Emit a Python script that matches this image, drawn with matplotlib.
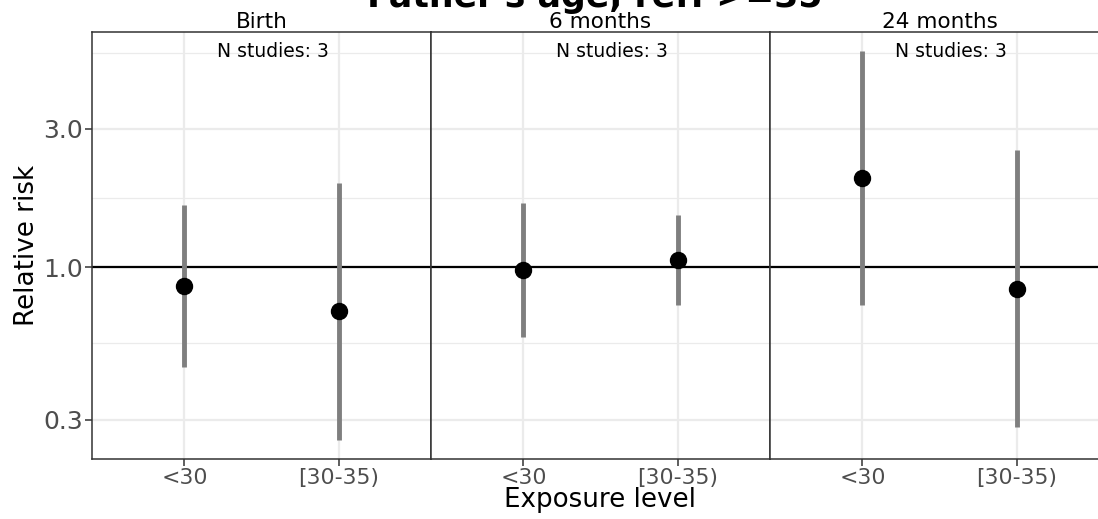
import numpy as np
import matplotlib
matplotlib.use("Agg")
import matplotlib.pyplot as plt

# -----------------------------
# DATA
# -----------------------------
panels = ["Birth", "6 months", "24 months"]
exposure_levels = ["<30", "[30-35)"]
n_studies = [3, 3, 3]

rr_point = [[0.862, 0.708], [0.982, 1.057], [2.03, 0.845]]
rr_lower = [[0.454, 0.256], [0.576, 0.740], [0.740, 0.283]]
rr_upper = [[1.646, 1.949], [1.663, 1.509], [5.53, 2.525]]

y_ticks = [0.3, 1.0, 3.0]
y_minor = [0.548, 1.732, 5.477]

# -----------------------------
# FIGURE
# -----------------------------
W, H = 1098, 519
fig = plt.figure(figsize=(W / 100, H / 100), dpi=100)

# log-scale limits with ggplot-style 5% expansion
lo = np.log10(np.min(rr_lower))
hi = np.log10(np.max(rr_upper))
pad = (hi - lo) * 0.05
ylim = (10 ** (lo - pad), 10 ** (hi + pad))

left_px, top_px, bottom_px, panel_w = 92, 32, 459, 339
text_col = "#4D4D4D"
grid_col = "#EBEBEB"

for i, name in enumerate(panels):
    ax = fig.add_axes([(left_px + i * panel_w) / W, (H - bottom_px) / H,
                       panel_w / W, (bottom_px - top_px) / H])
    ax.set_yscale("log")
    ax.set_ylim(*ylim)
    ax.set_xlim(-0.6, 1.6)

    x = np.arange(len(exposure_levels))

    # grid
    for yv in y_minor:
        ax.axhline(yv, color=grid_col, lw=0.9, zorder=0)
    for yv in y_ticks:
        ax.axhline(yv, color=grid_col, lw=1.6, zorder=0)
    for xv in x:
        ax.axvline(xv, color=grid_col, lw=1.6, zorder=0)

    ax.axhline(1.0, color="black", lw=1.6, zorder=1)

    ax.vlines(x, rr_lower[i], rr_upper[i], color="#7F7F7F", lw=3.5, zorder=2)
    ax.plot(x, rr_point[i], "o", color="black", ms=11.5, zorder=3)

    # study count label near the top of each panel
    ax.text(-0.6 + 0.533 * 2.2, np.max(rr_upper), f"N studies: {n_studies[i]}",
            ha="center", va="center", fontsize=13.5)

    ax.set_title(name, fontsize=15.5, pad=3)

    ax.tick_params(axis="both", color="#333333", width=1.1, length=5, pad=1.5)
    ax.set_xticks(x)
    ax.set_xticklabels(exposure_levels, fontsize=15.8, color=text_col)
    ax.yaxis.set_minor_locator(matplotlib.ticker.NullLocator())
    ax.set_yticks(y_ticks)
    if i == 0:
        ax.set_yticklabels([f"{v:.1f}" for v in y_ticks], fontsize=18, color=text_col)
        ax.set_ylabel("Relative risk", fontsize=18.8, labelpad=2)
    else:
        ax.set_yticklabels([])
        ax.tick_params(axis="y", length=0)
    if i == 1:
        ax.set_xlabel("Exposure level", fontsize=18.8, labelpad=-1)

    for s in ax.spines.values():
        s.set_color("#333333")
        s.set_linewidth(1.1)

fig.text((left_px + 1098) / 2 / W, 1 - 7 / H, "Father's age, ref: >=35",
         ha="center", va="baseline", fontsize=25, fontweight="bold")

fig.savefig("out.png", dpi=100)
